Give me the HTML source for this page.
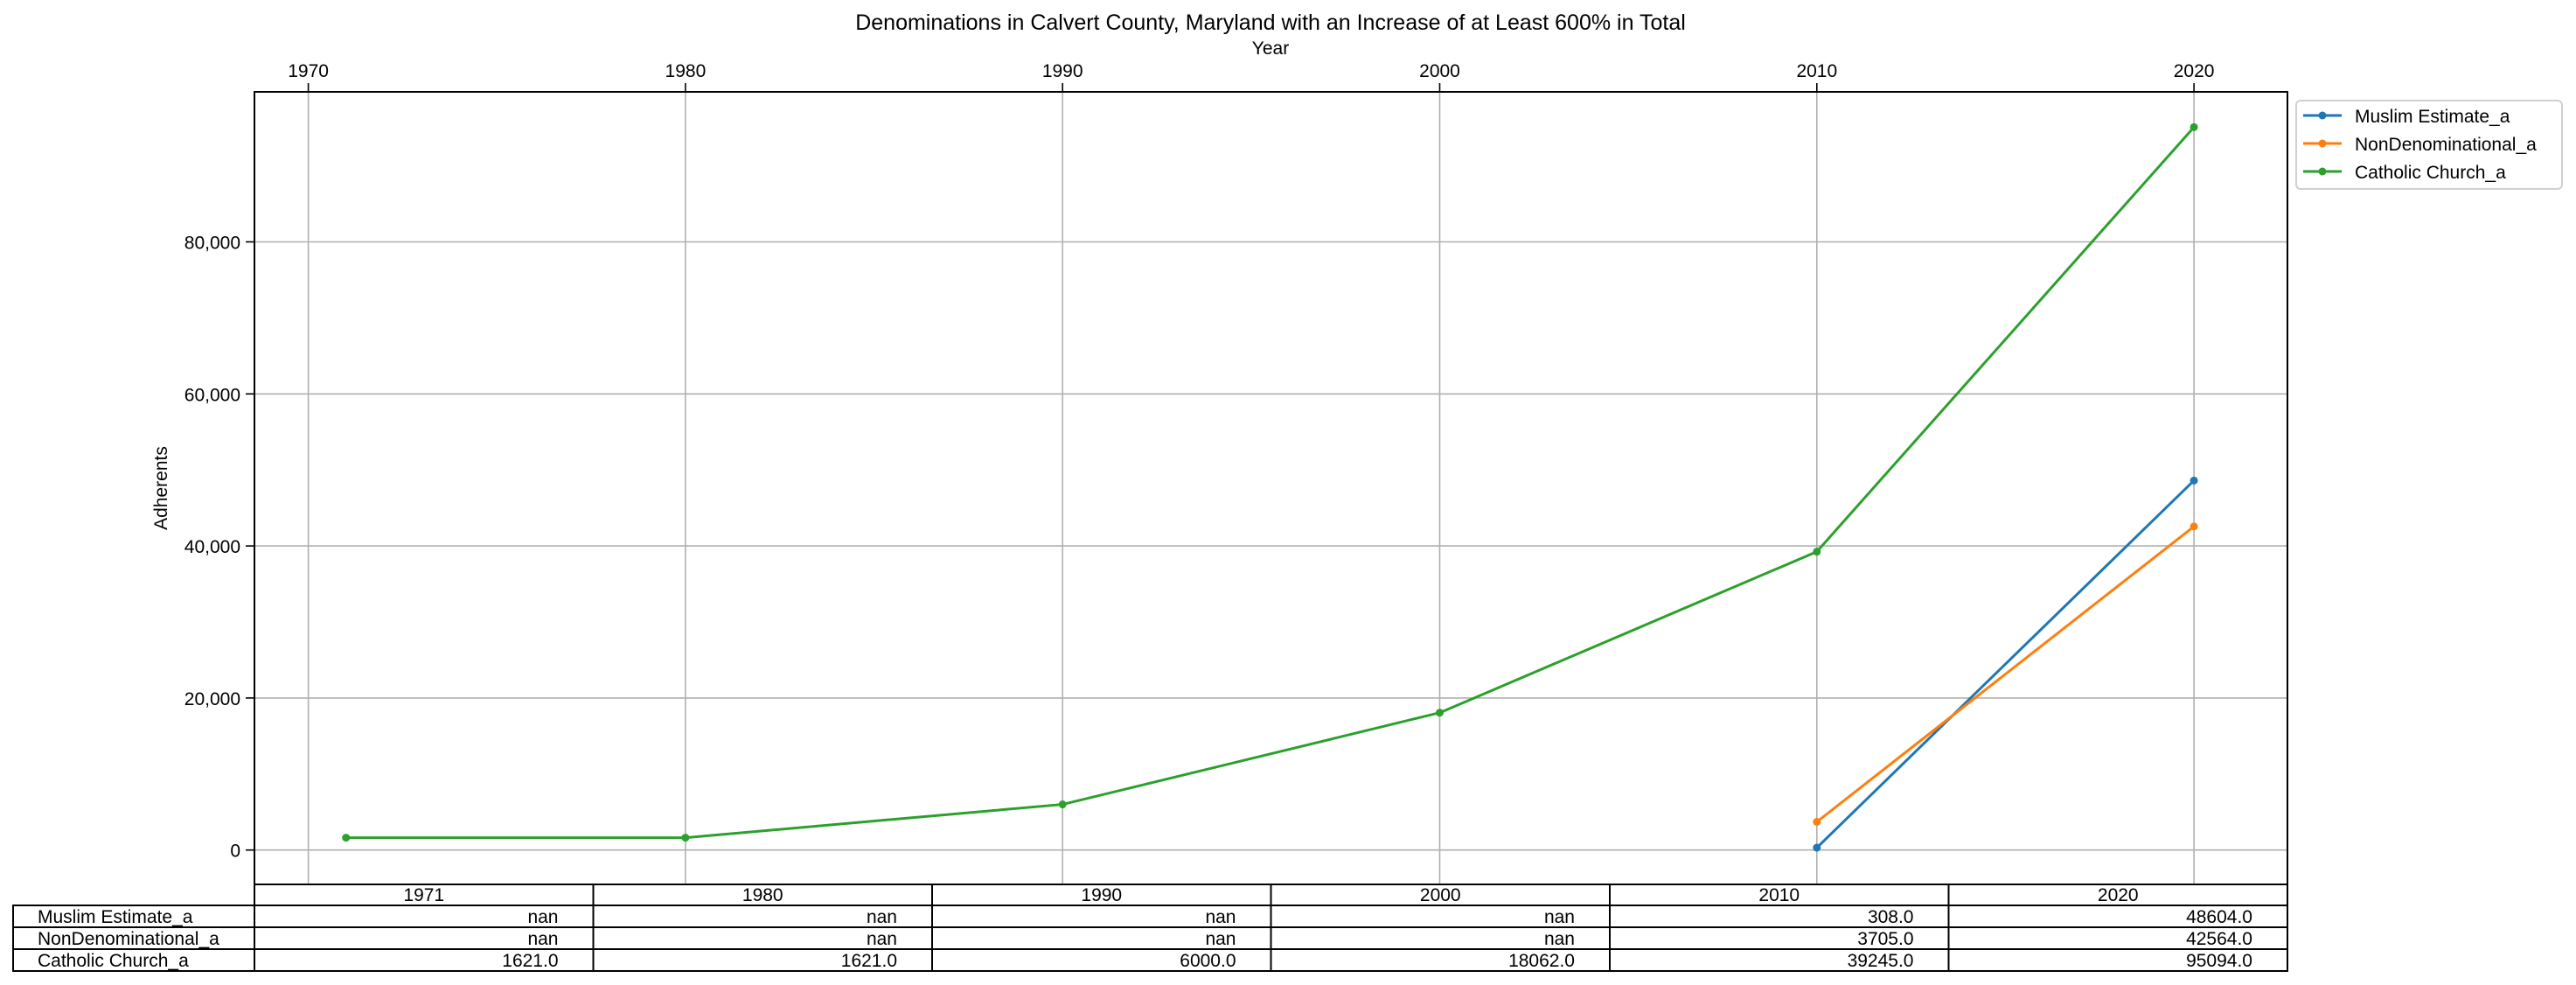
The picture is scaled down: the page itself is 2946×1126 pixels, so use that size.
<!DOCTYPE html>
<html><head><meta charset="utf-8"><style>
body{margin:0;background:#fff}
svg{display:block;font-family:"Liberation Sans",sans-serif}
</style></head><body>
<svg id="chart" width="2946" height="1126" viewBox="0 0 2946 1126">
<text x="1453" y="34" text-anchor="middle" font-size="25">Denominations in Calvert County, Maryland with an Increase of at Least 600% in Total</text>
<text x="1453" y="62" text-anchor="middle" font-size="21">Year</text>
<text transform="translate(191,558) rotate(-90)" text-anchor="middle" font-size="21">Adherents</text>
<g id="grid"></g><g id="series"></g>
<rect x="291" y="105" width="2325" height="906" fill="none" stroke="#000" stroke-width="2"/>
<g id="ticks"></g>
<g>
<rect x="2626" y="115" width="304" height="101" rx="5" fill="#fff" stroke="#d0d0d0" stroke-width="2"/>
<g id="legend"></g>
</g>
<g id="table"></g>
</svg>
<script>
const years=[1971,1980,1990,2000,2010,2020];
const seriesNames=["Muslim Estimate_a","NonDenominational_a","Catholic Church_a"];
const muslim=[null,null,null,null,308,48604];
const nondenom=[null,null,null,null,3705,42564];
const catholic=[1621,1621,6000,18062,39245,95094];
const xTicks=[1970,1980,1990,2000,2010,2020];
const yTicks=[0,20000,40000,60000,80000];
const colors=["#1f77b4","#ff7f0e","#2ca02c"];
const NS="http://www.w3.org/2000/svg";
const L=291,R=2616,T=105,B=1011;
const x=v=>352.6+(v-1970)*43.13;
const y=v=>971.7-v*173.8/20000;
function mk(tag,attrs,parent,txt){const e=document.createElementNS(NS,tag);for(const k in attrs)e.setAttribute(k,attrs[k]);if(txt!==undefined)e.textContent=txt;parent.appendChild(e);return e;}
const grid=document.getElementById('grid'),ticks=document.getElementById('ticks');
xTicks.forEach(t=>{
 let g=mk('line',{x1:x(t),x2:x(t),y1:T,y2:B,stroke:'#b0b0b0','stroke-width':1.6},grid);
 
 
 let k=mk('line',{x1:x(t),x2:x(t),y1:T-10,y2:T,stroke:'#000','stroke-width':1.6},ticks);
 
 
 let l=mk('text',{x:x(t),y:88,'text-anchor':'middle','font-size':21},ticks,String(t));
 
 
});
yTicks.forEach(t=>{
 let g=mk('line',{x1:L,x2:R,y1:y(t),y2:y(t),stroke:'#b0b0b0','stroke-width':1.6},grid);
 
 
 let k=mk('line',{x1:L-10,x2:L,y1:y(t),y2:y(t),stroke:'#000','stroke-width':1.6},ticks);
 
 
 let l=mk('text',{x:L-16,y:y(t)+8,'text-anchor':'end','font-size':21},ticks,t.toLocaleString('en-US'));
 
 
});
const sg=document.getElementById('series');
[muslim,nondenom,catholic].forEach((d,i)=>{
 const pts=[];d.forEach((v,j)=>{if(v!==null)pts.push([x(years[j]),y(v)]);});
 let p=mk('polyline',{points:pts.map(q=>q.join(',')).join(' '),fill:'none',stroke:colors[i],'stroke-width':3},sg);
 
 
 pts.forEach(q=>{let c=mk('circle',{cx:q[0],cy:q[1],r:4.5,fill:colors[i]},sg);
  
  });
});
const lg=document.getElementById('legend');
seriesNames.forEach((n,i)=>{
 const yy=132+i*32;
 let ln=mk('line',{x1:2634,x2:2678,y1:yy,y2:yy,stroke:colors[i],'stroke-width':3},lg);
 
 
 let c=mk('circle',{cx:2656,cy:yy,r:4.5,fill:colors[i]},lg);
 
 
 let t=mk('text',{x:2693,y:yy+8,'font-size':21},lg,n);
 
 
});
const tb=document.getElementById('table');
const cw=(R-L)/6, rows=[1011,1035,1060,1085,1110];
const all=[muslim,nondenom,catholic];
let hb=mk('rect',{x:L,y:rows[0],width:R-L,height:rows[1]-rows[0],fill:'#fff',stroke:'#000','stroke-width':2},tb);


years.forEach((yv,j)=>{
 let r=mk('rect',{x:L+j*cw,y:rows[0],width:cw,height:rows[1]-rows[0],fill:'none',stroke:'#000','stroke-width':2},tb);
 
 
 let t=mk('text',{x:L+j*cw+cw/2,y:rows[1]-5,'text-anchor':'middle','font-size':21},tb,String(yv));
 
 
});
all.forEach((d,i)=>{
 const y0=rows[i+1],h=rows[i+2]-rows[i+1];
 let r=mk('rect',{x:15,y:y0,width:L-15,height:h,fill:'#fff',stroke:'#000','stroke-width':2},tb);
 
 
 let t=mk('text',{x:43,y:y0+h-5,'font-size':21},tb,seriesNames[i]);
 
 
 d.forEach((v,j)=>{
  let c=mk('rect',{x:L+j*cw,y:y0,width:cw,height:h,fill:'#fff',stroke:'#000','stroke-width':2},tb);
  
  
  let tv=mk('text',{x:L+(j+1)*cw-40,y:y0+h-5,'text-anchor':'end','font-size':21},tb,v===null?'nan':v.toFixed(1));
  
  
 });
});
</script>
</body></html>
